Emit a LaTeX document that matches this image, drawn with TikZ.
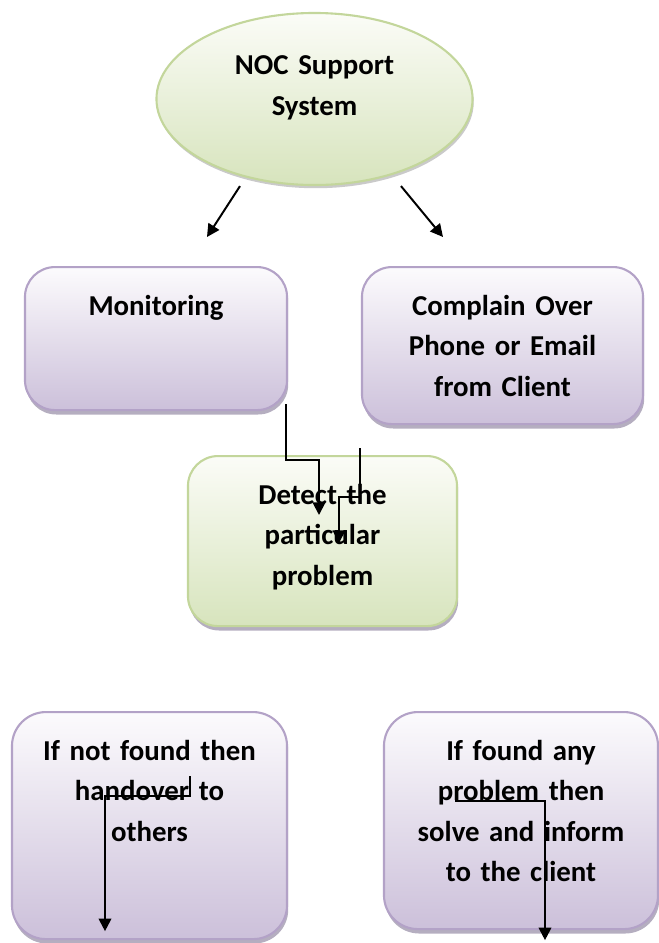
\documentclass[tikz,border=0pt]{standalone}
\usepackage{fontspec}
\setmainfont{Carlito}
\usetikzlibrary{shapes.geometric,shadows,arrows.meta}

\definecolor{boxtop}{RGB}{252,251,253}
\definecolor{boxbottom}{RGB}{204,192,218}
\definecolor{boxline}{RGB}{179,162,199}
\definecolor{boxshadow}{RGB}{150,140,165}
\definecolor{greentop}{RGB}{251,252,247}
\definecolor{greenbottom}{RGB}{215,228,189}
\definecolor{greenline}{RGB}{195,214,155}

\begin{document}
\begin{tikzpicture}[x=0.025cm, y=-0.025cm,
every node/.style={font=\bfseries\fontsize{20.5pt}{28.8pt}\selectfont},
purplebox/.style={rectangle, rounded corners=0.75cm, draw=boxline, line width=1.5pt, top color=boxtop, bottom color=boxbottom, anchor=north, align=center, inner sep=0pt, text height=1.2cm, drop shadow={shadow xshift=0.03cm, shadow yshift=-0.11cm, fill=boxshadow, opacity=0.7}},
greenbox/.style={purplebox, draw=greenline, top color=greentop, bottom color=greenbottom},
ovalnode/.style={ellipse, draw=greenline, line width=1.5pt, top color=greentop, bottom color=greenbottom, minimum width=7.9cm, minimum height=4.3cm, inner sep=0pt, text width=5cm, align=center, drop shadow={shadow xshift=0.03cm, shadow yshift=-0.08cm, fill=black!35, opacity=0.6}},
arrowline/.style={line width=1.4pt, -{Triangle[width=9pt,length=9pt]}}
]
    \useasboundingbox (0,0) rectangle (659,943);

    \node [ovalnode, text height=0.5cm, text depth=1.7cm] (noc) at (314.5,99) {NOC Support\\System};

    \node [purplebox, text width=6.55cm, text depth=2.375cm] (mon) at (156,266) {Monitoring};
    \node [purplebox, text width=7.025cm, text depth=2.725cm] (cmp) at (502.5,266) {Complain Over\\Phone or Email\\from Client};

    \node [greenbox, text width=6.725cm, text depth=3.05cm] (det) at (322.5,455) {Detect the\\particular\\problem};

    \node [purplebox, rounded corners=0.85cm, text width=6.875cm, text depth=4.475cm] (nf) at (149.5,711) {If not found then\\handover to\\others};
    \node [purplebox, rounded corners=0.85cm, text width=6.85cm, text depth=4.225cm] (fd) at (521,711) {If found any\\problem then\\solve and inform\\to the client};

    \coordinate (t1) at ([shift={(-74.5,0)}]noc.south);
    \coordinate (t2) at ([shift={(51,-29)}]mon.north);
    \coordinate (t3) at ([shift={(86.5,0)}]noc.south);
    \coordinate (t4) at ([shift={(-59.5,-29)}]cmp.north);
    \coordinate (m1) at ([shift={(-2,-7)}]mon.south east);
    \coordinate (m2) at ([shift={(-3.5,60)}]det.north);
    \coordinate (c1) at ([shift={(-1,23)}]cmp.south west);
    \coordinate (c2) at ([shift={(16.5,88)}]det.north);
    \coordinate (n1) at ([shift={(40.5,65)}]nf.north);
    \coordinate (n2) at ([shift={(-44.5,-9)}]nf.south);
    \coordinate (f1) at ([shift={(-66,90)}]fd.north);
    \coordinate (f2) at ([shift={(24,10)}]fd.south);

    \draw [arrowline] (t1) -- (t2);
    \draw [arrowline] (t3) -- (t4);
    \draw [arrowline] (m1) -- ++(0,56) -| (m2);
    \draw [arrowline] (c1) -- ++(0,49) -| (c2);
    \draw [arrowline] (n1) -- ++(0,20) -| (n2);
    \draw [arrowline] (f1) -| (f2);
\end{tikzpicture}
\end{document}
